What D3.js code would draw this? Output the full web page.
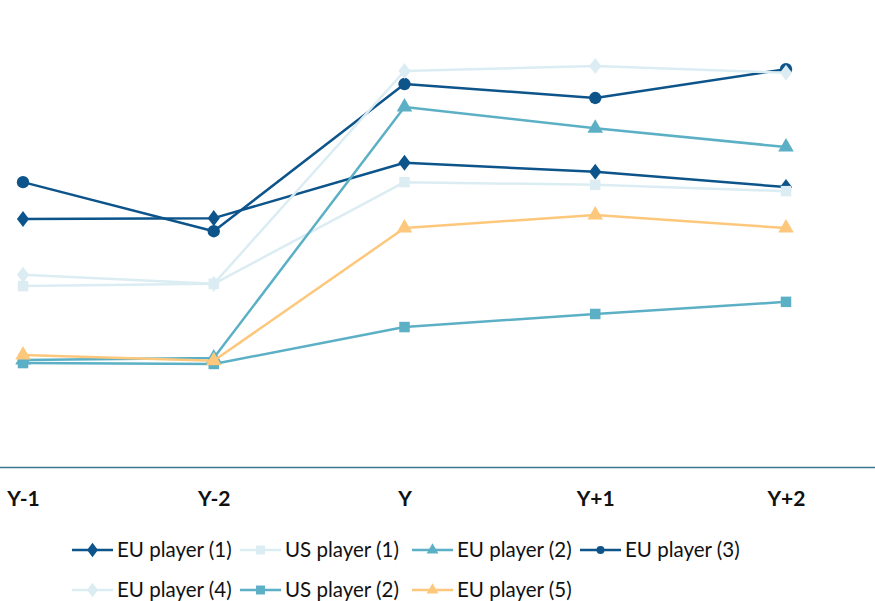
<!DOCTYPE html>
<html><head><meta charset="utf-8">
<script src="https://cdn.jsdelivr.net/npm/d3@7"></script>
<style>body{margin:0;background:#fff}svg{display:block}</style>
</head><body>
<script>
const categories = ["Y-1","Y-2","Y","Y+1","Y+2"];
const seriesNames = ["EU player (1)","US player (1)","EU player (2)","EU player (3)","EU player (4)","US player (2)","EU player (5)"];
const eu1 = [55.1, 55.3, 67.6, 65.6, 62.2];
const us1 = [40.2, 40.7, 63.3, 62.7, 61.3];
const eu2 = [23.8, 24.2, 80.0, 75.3, 71.1];
const eu3 = [63.3, 52.4, 85.1, 82.0, 88.4];
const eu4 = [42.7, 40.7, 88.0, 89.1, 87.6];
const us2 = [23.1, 22.9, 31.1, 34.0, 36.7];
const eu5 = [24.9, 23.6, 53.1, 56.0, 53.1];
const seriesValues = [eu1, us1, eu2, eu3, eu4, us2, eu5];
const colors = ["#0d548b","#dbedf3","#5cb0c5","#0d548b","#dbedf3","#5cb0c5","#fdc87c"];
const shapes = [d3.symbolDiamond, d3.symbolSquare, d3.symbolTriangle, d3.symbolCircle, d3.symbolDiamond, d3.symbolSquare, d3.symbolTriangle];
const sizes = [75, 110, 105, 120, 75, 110, 105];
const legendSizes = [60, 80, 60, 50, 60, 80, 60];

const W = 875, H = 601;
const svg = d3.select("body").append("svg").attr("width", W).attr("height", H);
const x = d3.scalePoint().domain(categories).range([23, 786]);
const y = d3.scaleLinear().domain([0, 100]).range([467, 17]);

// axis line
svg.append("line").attr("x1", 0).attr("x2", W).attr("y1", 467.5).attr("y2", 467.5)
  .attr("stroke", "#3f7590").attr("stroke-width", 1.3);

const xAxis = d3.axisBottom(x).tickSize(0).tickPadding(0);
const gx = svg.append("g").attr("transform", "translate(0,491)").call(xAxis);
gx.select(".domain").remove();
gx.selectAll("text").attr("font-family", "Lato, sans-serif").attr("font-weight", "bold")
  .attr("font-size", 21).attr("fill", "#111").attr("dy", "0.71em");

const line = d3.line().x((d, i) => x(categories[i])).y(d => y(d));
seriesValues.forEach((vals, s) => {
  const g = svg.append("g");
  g.append("path").attr("d", line(vals)).attr("fill", "none")
    .attr("stroke", colors[s]).attr("stroke-width", 2.5).attr("stroke-linejoin", "round");
  g.selectAll("path.m").data(vals).enter().append("path").attr("class", "m")
    .attr("d", d3.symbol().type(shapes[s]).size(sizes[s]))
    .attr("transform", (d, i) => `translate(${x(categories[i])},${y(d)})` + (shapes[s] === d3.symbolDiamond ? " scale(1.3,1)" : ""))
    .attr("fill", colors[s]);
});

// legend
const legendPos = [[72,550],[240,550],[412,550],[580,550],[72,590],[240,590],[412,590]];
seriesNames.forEach((name, s) => {
  const [lx, ly] = legendPos[s];
  const g = svg.append("g").attr("transform", `translate(${lx},${ly})`);
  g.append("line").attr("x1", 0).attr("x2", 41).attr("y1", 0).attr("y2", 0)
    .attr("stroke", colors[s]).attr("stroke-width", 2.5);
  g.append("path").attr("d", d3.symbol().type(shapes[s]).size(legendSizes[s]))
    .attr("transform", "translate(20.5,0)" + (shapes[s] === d3.symbolDiamond ? " scale(1.3,1)" : ""))
    .attr("fill", colors[s]);
  g.append("text").attr("x", 45).attr("y", 0).attr("dy", "0.36em")
    .attr("font-family", "Lato, sans-serif").attr("font-size", 20.5).attr("fill", "#111")
    .text(name);
});
</script>
</body></html>
